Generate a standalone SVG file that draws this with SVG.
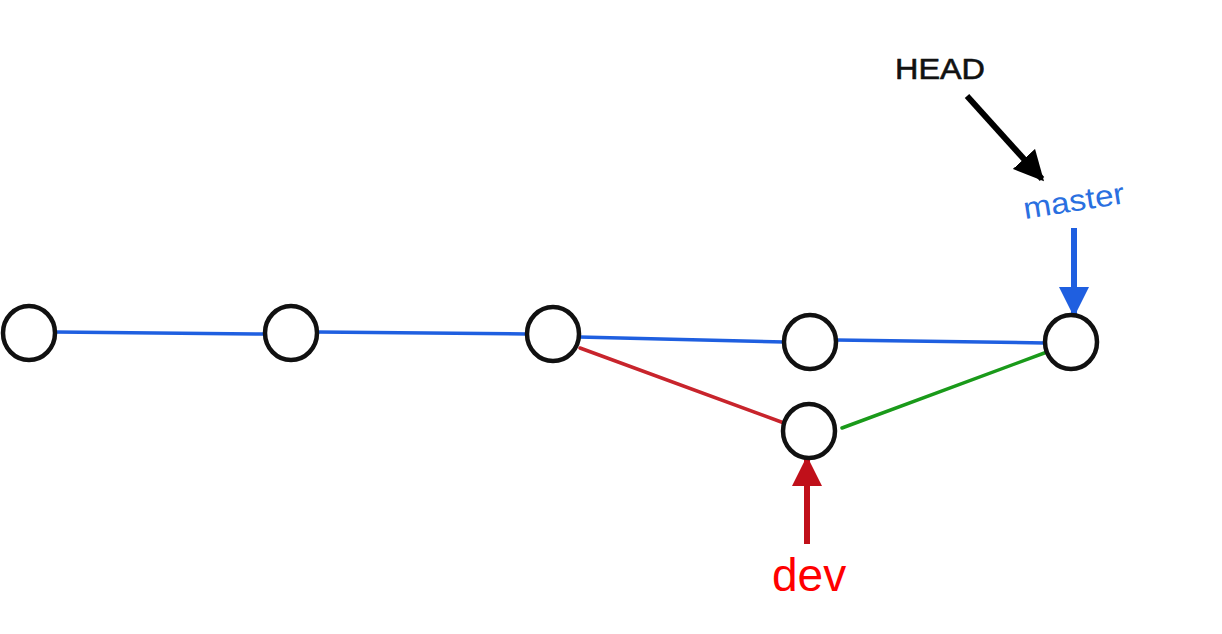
<svg xmlns="http://www.w3.org/2000/svg" width="1222" height="634" viewBox="0 0 1222 634">
<defs>
<style>
.node{fill:#fff;stroke:#111;stroke-width:4.5}
.edge{fill:none;stroke-width:3.5;stroke-linecap:round}
.blue{stroke:#1f5fe0}
.red{stroke:#c8242c}
.green{stroke:#1a9a1a}
.lbl{font-family:"Liberation Sans",Arial,sans-serif}
</style>
<marker id="ahBlack" viewBox="0 0 10 10" refX="9" refY="5" markerWidth="5" markerHeight="5" orient="auto" markerUnits="strokeWidth"><path d="M0,0 L10,5 L0,10 Z" fill="#000"/></marker>
<marker id="ahBlue" viewBox="0 0 10 10" refX="9" refY="5" markerWidth="5" markerHeight="5" orient="auto" markerUnits="strokeWidth"><path d="M0,0 L10,5 L0,10 Z" fill="#1f5fe0"/></marker>
<marker id="ahRed" viewBox="0 0 10 10" refX="9" refY="5" markerWidth="5" markerHeight="5" orient="auto" markerUnits="strokeWidth"><path d="M0,0 L10,5 L0,10 Z" fill="#c0101a"/></marker>
</defs>
<rect width="1222" height="634" fill="#fff"/>
<g id="connectors">
<line class="edge blue" x1="55" y1="332" x2="265" y2="334"/>
<line class="edge blue" x1="317" y1="332" x2="527" y2="334"/>
<line class="edge blue" x1="579" y1="337" x2="784" y2="342"/>
<line class="edge blue" x1="836" y1="340" x2="1045" y2="343"/>
<line class="edge red" x1="580" y1="348" x2="784" y2="423"/>
<line class="edge green" x1="842" y1="428" x2="1047" y2="352"/>
<line x1="967" y1="96" x2="1042" y2="179" stroke="#000" stroke-width="6" marker-end="url(#ahBlack)"/>
<line x1="1074" y1="228" x2="1074" y2="314" stroke="#1f5fe0" stroke-width="6" marker-end="url(#ahBlue)"/>
<line x1="807" y1="544" x2="807" y2="459" stroke="#c0101a" stroke-width="6" marker-end="url(#ahRed)"/>
</g>
<g id="c1"><ellipse class="node" cx="29" cy="333" rx="26" ry="27"/></g>
<g id="c2"><ellipse class="node" cx="291" cy="333" rx="26" ry="27"/></g>
<g id="c3"><ellipse class="node" cx="553" cy="334" rx="26" ry="27"/></g>
<g id="c4"><ellipse class="node" cx="810" cy="342" rx="26" ry="27"/></g>
<g id="c5"><ellipse class="node" cx="1071" cy="342" rx="26" ry="27"/></g>
<g id="c6"><ellipse class="node" cx="809" cy="431" rx="26" ry="27"/></g>
<g id="HEAD"><text class="lbl" x="895" y="79" font-size="30" fill="#111" stroke="#111" stroke-width="0.6" textLength="90" lengthAdjust="spacingAndGlyphs">HEAD</text></g>
<g id="master"><text class="lbl" x="1025" y="219" font-size="30" fill="#2a6fe0" transform="rotate(-9 1025 219)" textLength="102" lengthAdjust="spacingAndGlyphs">master</text></g>
<g id="dev"><text class="lbl" x="772" y="591" font-size="46" fill="#ff0000">dev</text></g>
</svg>
